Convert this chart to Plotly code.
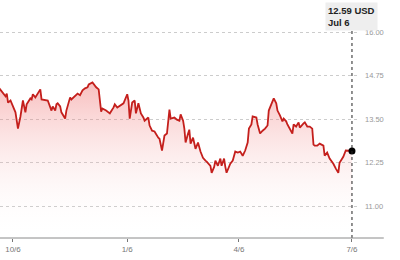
import plotly.graph_objects as go

dates = [
    "2022-09-25","2022-09-28","2022-09-30","2022-10-01","2022-10-02","2022-10-04","2022-10-05",
    "2022-10-08","2022-10-10","2022-10-12","2022-10-14","2022-10-16","2022-10-17","2022-10-20",
    "2022-10-21","2022-10-22","2022-10-24","2022-10-25","2022-10-28","2022-10-29","2022-11-01",
    "2022-11-03","2022-11-06","2022-11-07","2022-11-09","2022-11-10","2022-11-11","2022-11-13",
    "2022-11-14","2022-11-17","2022-11-18","2022-11-21","2022-11-22","2022-11-25","2022-11-27",
    "2022-11-29","2022-12-01","2022-12-03","2022-12-05","2022-12-06","2022-12-09","2022-12-12",
    "2022-12-14","2022-12-16","2022-12-17","2022-12-20","2022-12-23","2022-12-26","2022-12-27",
    "2022-12-29","2023-01-01","2023-01-03","2023-01-06","2023-01-07","2023-01-08","2023-01-10",
    "2023-01-12","2023-01-13","2023-01-15","2023-01-17","2023-01-19","2023-01-20","2023-01-23",
    "2023-01-24","2023-01-26","2023-01-28","2023-01-31","2023-02-01","2023-02-03","2023-02-05",
    "2023-02-07","2023-02-09","2023-02-10","2023-02-13","2023-02-15","2023-02-17","2023-02-18",
    "2023-02-20","2023-02-21","2023-02-22","2023-02-24","2023-02-25","2023-02-26","2023-02-28",
    "2023-03-02","2023-03-04","2023-03-06","2023-03-08","2023-03-10","2023-03-11","2023-03-14",
    "2023-03-15","2023-03-17","2023-03-18","2023-03-20","2023-03-22","2023-03-23","2023-03-25",
    "2023-03-26","2023-03-27","2023-03-30","2023-04-01","2023-04-03","2023-04-05","2023-04-07",
    "2023-04-09","2023-04-11","2023-04-13","2023-04-14","2023-04-16","2023-04-17","2023-04-20",
    "2023-04-21","2023-04-23","2023-04-25","2023-04-27","2023-04-29","2023-04-30","2023-05-02",
    "2023-05-04","2023-05-06","2023-05-07","2023-05-09","2023-05-11","2023-05-12","2023-05-14",
    "2023-05-15","2023-05-17","2023-05-19","2023-05-20","2023-05-22","2023-05-24","2023-05-25",
    "2023-05-28","2023-05-29","2023-05-31","2023-06-02","2023-06-04","2023-06-05","2023-06-06",
    "2023-06-08","2023-06-10","2023-06-13","2023-06-14","2023-06-16","2023-06-18","2023-06-21",
    "2023-06-23","2023-06-25","2023-06-26","2023-06-29","2023-07-01","2023-07-04","2023-07-06",
]

prices = [
    14.39,14.27,14.16,14.24,13.98,14.04,13.96,
    13.70,13.23,13.58,14.04,13.70,13.93,14.10,
    14.07,14.22,14.13,14.19,14.36,14.07,14.04,
    14.04,13.75,13.87,13.75,13.93,13.96,13.87,
    13.70,13.52,13.75,14.13,14.07,14.19,14.24,
    14.19,14.33,14.39,14.42,14.50,14.56,14.42,
    14.36,13.72,13.81,13.75,13.67,13.84,13.93,
    13.84,13.90,13.96,14.22,14.04,13.52,13.98,
    14.04,13.67,13.96,13.67,13.55,13.46,13.55,
    13.32,13.17,13.15,12.97,12.94,12.60,13.03,
    13.09,13.78,13.52,13.55,13.49,13.46,13.64,
    13.46,13.23,12.83,13.09,13.20,12.80,12.97,
    12.65,12.83,12.57,12.39,12.31,12.28,12.16,
    11.96,12.13,12.31,12.16,12.37,12.16,12.37,
    12.13,11.96,12.22,12.31,12.57,12.54,12.57,
    12.45,12.60,12.83,13.23,13.35,13.58,13.55,
    13.35,13.09,13.17,13.23,13.32,13.75,13.93,
    14.10,13.96,13.75,13.61,13.44,13.52,13.44,
    13.35,13.23,13.09,13.35,13.29,13.41,13.26,
    13.38,13.41,13.29,13.29,13.23,12.77,12.74,
    12.74,12.80,12.74,12.45,12.54,12.37,12.22,
    12.08,11.96,12.25,12.42,12.60,12.60,12.59,
]

tick_vals = ["2022-10-06", "2023-01-06", "2023-04-06", "2023-07-06"]
tick_text = ["10/6", "1/6", "4/6", "7/6"]
y_ticks = [11.00, 12.25, 13.50, 14.75, 16.00]
y_text = ["11.00", "12.25", "13.50", "14.75", "16.00"]

last_date = dates[-1]
last_price = prices[-1]
tooltip_text = f"<b>{last_price:.2f} USD</b><br><b>Jul 6</b>"

FONT = "Liberation Sans, Arial, sans-serif"

fig = go.Figure()
fig.add_trace(go.Scatter(
    x=dates, y=prices, mode="lines",
    line=dict(color="#c41f1c", width=1.8),
    fill="tozeroy",
    fillgradient=dict(
        type="vertical",
        start=10.08, stop=14.6,
        colorscale=[[0, "rgba(255,255,255,0)"], [1, "rgba(236,90,90,0.40)"]],
    ),
    hoverinfo="skip",
))
fig.add_trace(go.Scatter(
    x=[last_date], y=[last_price], mode="markers",
    marker=dict(color="#000000", size=7),
    hoverinfo="skip",
))

# vertical dotted cursor line
fig.add_shape(type="line", xref="x", yref="paper",
              x0=last_date, x1=last_date, y0=0, y1=0.885,
              line=dict(color="#222222", width=1, dash="dot"))
# x-axis baseline extended
fig.add_shape(type="line", xref="paper", yref="paper",
              x0=0, x1=1.075, y0=0, y1=0,
              line=dict(color="#8a8a8a", width=1))

fig.add_annotation(
    x=last_date, xref="x", y=1.0, yref="paper",
    xanchor="center", yanchor="top", yshift=-2, xshift=0,
    text=tooltip_text, showarrow=False, align="left",
    bgcolor="#eeeeee", borderpad=2,
    font=dict(family=FONT, size=9.5, color="#222222"),
)

fig.update_layout(
    width=400, height=260,
    margin=dict(l=0, r=43, t=0, b=22),
    paper_bgcolor="white", plot_bgcolor="white",
    showlegend=False,
    font=dict(family=FONT),
    xaxis=dict(
        type="date",
        range=["2022-09-25 13:00", "2023-07-10 01:00"],
        tickvals=tick_vals, ticktext=tick_text,
        ticks="outside", ticklen=3, tickcolor="#777777",
        tickfont=dict(size=8, color="#777777"),
        showgrid=False, showline=False, zeroline=False,
        fixedrange=True,
    ),
    yaxis=dict(
        range=[10.083, 16.932],
        side="right",
        tickvals=y_ticks, ticktext=y_text,
        tickfont=dict(size=7.5, color="#999999"),
        ticks="", ticklabelstandoff=7,
        showgrid=True, gridcolor="#cccccc", griddash="dot", gridwidth=1,
        zeroline=False, showline=False,
        fixedrange=True,
    ),
)

fig.write_html("out.html")
